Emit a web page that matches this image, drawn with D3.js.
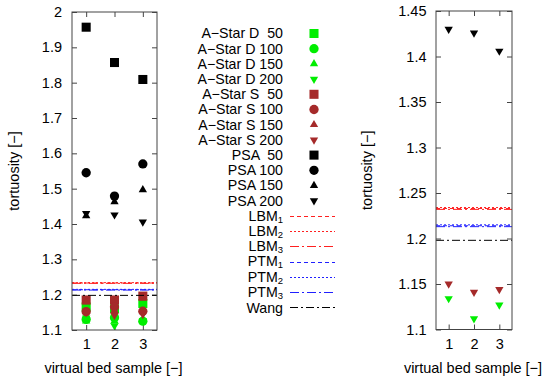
<!DOCTYPE html>
<html><head><meta charset="utf-8">
<script src="https://cdn.jsdelivr.net/npm/d3@7"></script>
<style>
html,body{margin:0;padding:0;background:#fff;}
svg{display:block;font-family:"Liberation Sans",Arial,Helvetica,sans-serif;}
</style></head>
<body>
<svg id="chart" width="550" height="382"></svg>
<script>
// ---------- data ----------
const samples = [1, 2, 3];
const aStarD50  = [1.165, 1.160, 1.175];
const aStarD100 = [1.130, 1.135, 1.125];
const aStarD150 = [1.125, 1.125, 1.128];
const aStarD200 = [1.134, 1.112, 1.127];
const aStarS50  = [1.185, 1.185, 1.196];
const aStarS100 = [1.152, 1.165, 1.153];
const aStarS150 = [1.180, 1.155, 1.190];
const aStarS200 = [1.150, 1.141, 1.144];
const psa50  = [1.957, 1.857, 1.809];
const psa100 = [1.545, 1.479, 1.570];
const psa150 = [1.423, 1.463, 1.497];
const psa200 = [1.430, 1.426, 1.406];
const refNames  = ["LBM", "LBM", "LBM", "PTM", "PTM", "PTM", "Wang"];
const refSubs   = ["1", "2", "3", "1", "2", "3", ""];
const refValues = [1.233, 1.234, 1.232, 1.214, 1.215, 1.213, 1.198];
const leftYTicks  = [1.1, 1.2, 1.3, 1.4, 1.5, 1.6, 1.7, 1.8, 1.9, 2.0];
const leftYLabels = ["1.1", "1.2", "1.3", "1.4", "1.5", "1.6", "1.7", "1.8", "1.9", "2"];
const rightYTicks  = [1.1, 1.15, 1.2, 1.25, 1.3, 1.35, 1.4, 1.45];
const rightYLabels = ["1.1", "1.15", "1.2", "1.25", "1.3", "1.35", "1.4", "1.45"];
const xTickLabels = ["1", "2", "3"];
const seriesNames = ["A\u2212Star D  50", "A\u2212Star D 100", "A\u2212Star D 150", "A\u2212Star D 200",
  "A\u2212Star S  50", "A\u2212Star S 100", "A\u2212Star S 150", "A\u2212Star S 200",
  "PSA  50", "PSA 100", "PSA 150", "PSA 200"];
const seriesValues = [aStarD50, aStarD100, aStarD150, aStarD200, aStarS50, aStarS100, aStarS150, aStarS200,
  psa50, psa100, psa150, psa200];

// ---------- styles ----------
const GREEN = "#00ee00", BROWN = "#a52a2a", BLACK = "#000";
const seriesColors = [GREEN, GREEN, GREEN, GREEN, BROWN, BROWN, BROWN, BROWN, BLACK, BLACK, BLACK, BLACK];
const shapes = ["square", "circle", "up", "down"];
const refColors = ["#ff2020", "#ff2020", "#ff2020", "#2020ff", "#2020ff", "#2020ff", "#000"];
const refDash = ["4,3", "2,2", "9,3,2,3", "4,3", "2,2", "9,3,2,3", "8,3,2,3"];

const svg = d3.select("#chart");
const FONT = 14.5;
const LEGFONT = 14.2;

function markerPath(shape) {
  if (shape === "square") return d3.symbol(d3.symbolSquare, 82)();
  if (shape === "circle") return d3.symbol(d3.symbolCircle, 68)();
  return d3.symbol(d3.symbolTriangle, 30)();
}
function drawMarker(g, shape, cx, cy, color) {
  g.append("path")
    .attr("d", markerPath(shape))
    .attr("transform", `translate(${cx},${cy})` + (shape === "down" ? " rotate(180)" : ""))
    .attr("fill", color);
}

function panel(cfg) {
  const x = d3.scaleLinear().domain([0.5, 3.5]).range([cfg.x0, cfg.x1]);
  const y = d3.scaleLinear().domain(cfg.yDomain).range([cfg.y1, cfg.y0]);
  const g = svg.append("g");
  const fmt = (d) => cfg.yLabels[cfg.yTicks.indexOf(d)];

  const axL = g.append("g").attr("transform", `translate(${cfg.x0},0)`)
    .call(d3.axisLeft(y).tickValues(cfg.yTicks).tickFormat(fmt).tickSize(-5).tickPadding(cfg.pad));
  const axR = g.append("g").attr("transform", `translate(${cfg.x1},0)`)
    .call(d3.axisRight(y).tickValues(cfg.yTicks).tickFormat("").tickSize(-5));
  const axB = g.append("g").attr("transform", `translate(0,${cfg.y1})`)
    .call(d3.axisBottom(x).tickValues(samples).tickFormat((d, i) => xTickLabels[i]).tickSize(-5).tickPadding(9));
  const axT = g.append("g").attr("transform", `translate(0,${cfg.y0})`)
    .call(d3.axisTop(x).tickValues(samples).tickFormat("").tickSize(-5));
  [axL, axR, axB, axT].forEach(a => {
    a.select(".domain").remove();
    a.selectAll("line").attr("stroke", "#444");
    a.selectAll("text").attr("font-size", FONT).attr("font-family", "Liberation Sans, Arial, sans-serif").attr("fill", "#000");
  });

  const clip = "clip" + cfg.id;
  g.append("clipPath").attr("id", clip).append("rect")
    .attr("x", cfg.x0).attr("y", cfg.y0).attr("width", cfg.x1 - cfg.x0).attr("height", cfg.y1 - cfg.y0);
  const plot = g.append("g").attr("clip-path", `url(#${clip})`);

  // points
  cfg.series.forEach(i => {
    seriesValues[i].forEach((v, k) => {
      drawMarker(plot, shapes[i % 4], x(samples[k]), y(v), seriesColors[i]);
    });
  });
  // reference lines
  refValues.forEach((v, i) => {
    plot.append("line").attr("x1", cfg.x0).attr("x2", cfg.x1).attr("y1", y(v)).attr("y2", y(v))
      .attr("stroke", refColors[i]).attr("stroke-width", 1).attr("stroke-dasharray", refDash[i]);
  });

  g.append("rect").attr("x", cfg.x0).attr("y", cfg.y0).attr("width", cfg.x1 - cfg.x0).attr("height", cfg.y1 - cfg.y0)
    .attr("fill", "none").attr("stroke", "#444").attr("stroke-width", 1);

  g.append("text").attr("transform", `translate(${cfg.ylx},${(cfg.y0 + cfg.y1) / 2}) rotate(-90)`)
    .attr("text-anchor", "middle").attr("dy", "0.35em").attr("font-size", FONT).text("tortuosity [\u2212]");
  g.append("text").attr("x", (cfg.x0 + cfg.x1) / 2 - 1).attr("y", 368).attr("dy", "0.35em")
    .attr("text-anchor", "middle").attr("font-size", FONT).text("virtual bed sample [\u2212]");
}

panel({ id: "L", x0: 72, x1: 157, y0: 12, y1: 330, yDomain: [1.1, 2.0], yTicks: leftYTicks, yLabels: leftYLabels,
  pad: 10, ylx: 14, series: d3.range(12) });
panel({ id: "R", x0: 436, x1: 512, y0: 11, y1: 329.5, yDomain: [1.1, 1.45], yTicks: rightYTicks, yLabels: rightYLabels,
  pad: 9.5, ylx: 367, series: [3, 7, 11] });

// legend
const leg = svg.append("g");
const rowY = (i) => 33.5 + i * 15.2;
const LX = 283;
seriesNames.forEach((name, i) => {
  leg.append("text").attr("x", LX).attr("y", rowY(i)).attr("dy", "0.35em").attr("text-anchor", "end")
    .attr("font-size", LEGFONT).style("white-space", "pre").text(name);
  drawMarker(leg, shapes[i % 4], 314, rowY(i), seriesColors[i]);
});
refNames.forEach((name, j) => {
  const i = j + 12;
  const base = rowY(i) + 0.35 * LEGFONT;
  let subW = 0;
  if (refSubs[j]) {
    const s = leg.append("text").attr("x", LX).attr("y", base + 2).attr("text-anchor", "end")
      .attr("font-size", 9.5).text(refSubs[j]);
    subW = s.node().getComputedTextLength();
    leg.append("text").attr("x", LX - subW).attr("y", base).attr("text-anchor", "end")
      .attr("font-size", LEGFONT).text(name);
  } else {
    leg.append("text").attr("x", LX).attr("y", base + 1).attr("text-anchor", "end")
      .attr("font-size", LEGFONT).text(name);
  }
  const ly = Math.round(rowY(i)) + 0.5;
  leg.append("line").attr("x1", 290).attr("x2", 335).attr("y1", ly).attr("y2", ly)
    .attr("stroke", refColors[j]).attr("stroke-width", 1).attr("stroke-dasharray", refDash[j]);
});
</script>
</body></html>
